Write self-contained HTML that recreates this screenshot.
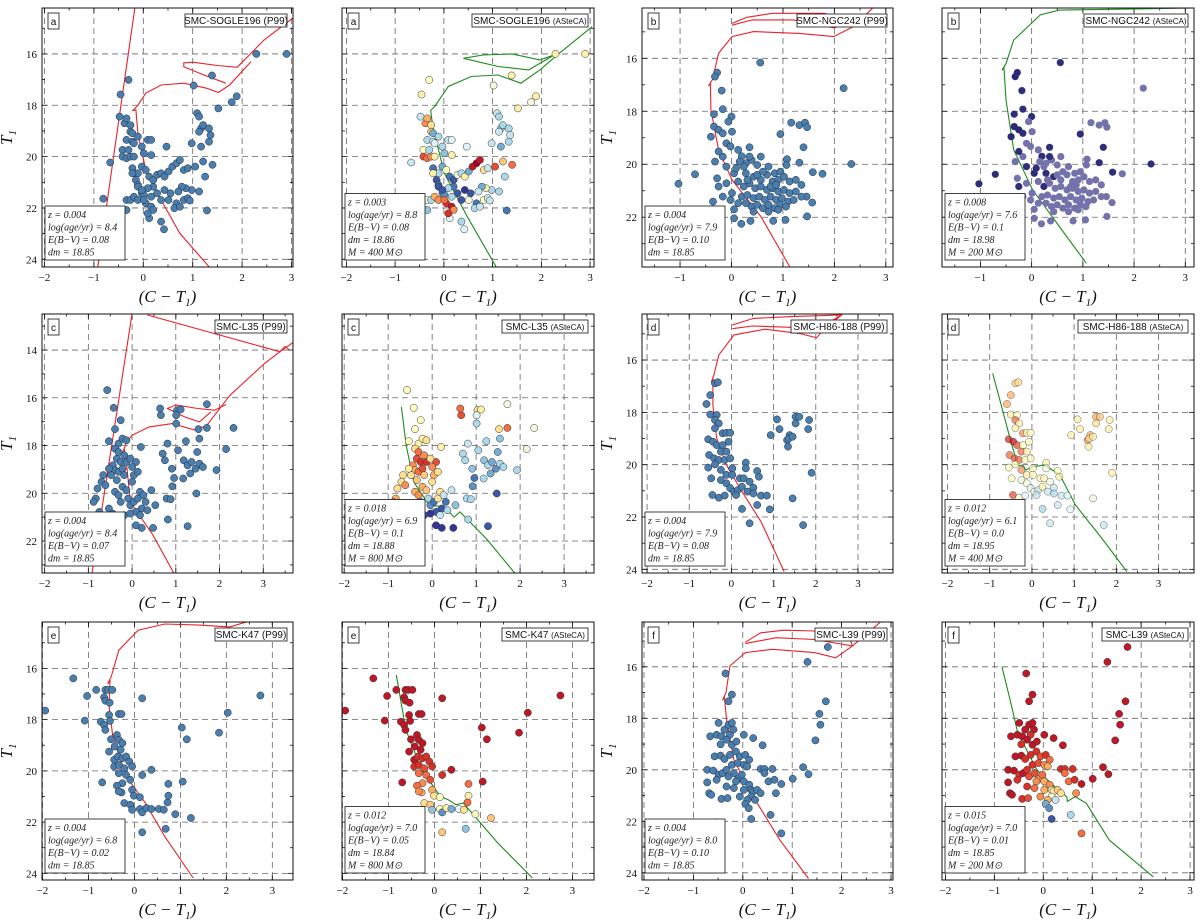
<!DOCTYPE html>
<html><head><meta charset="utf-8">
<style>
html,body{margin:0;padding:0;background:#fff;}
svg{display:block;}
.tick{font-family:"Liberation Serif",serif;font-size:11px;fill:#111;}
.axl{font-family:"Liberation Serif",serif;font-size:17px;font-style:italic;fill:#111;}
.ttl{font-family:"Liberation Sans",sans-serif;font-size:10px;fill:#111;}
.info{font-family:"Liberation Serif",serif;font-size:10px;font-style:italic;fill:#222;}
</style></head>
<body>
<svg id="fig" width="1200" height="921" viewBox="0 0 1200 921" xmlns="http://www.w3.org/2000/svg"></svg>
<script>
// ---------- DATA ----------
const ptsA=[[-0.81,21.64],[-0.67,20.23],[-0.46,17.58],[-0.30,17.01],[-0.48,18.44],[-0.38,18.70],[-0.34,18.51],[-0.26,18.77],[-0.26,19.03],[-0.22,19.09],[-0.34,19.35],[-0.22,19.42],[-0.42,19.74],[-0.30,19.74],[-0.42,20.00],[-0.34,20.06],[-0.26,20.00],[-0.19,20.00],[-0.22,20.45],[-0.19,20.65],[-0.15,20.91],[-0.11,21.10],[-0.34,21.69],[-0.26,21.69],[-0.19,21.56],[-0.34,22.08],[-0.11,21.17],[-0.03,21.43],[0.05,21.82],[0.16,21.95],[0.20,22.08],[0.12,22.40],[0.36,22.53],[0.42,22.83],[0.36,21.69],[0.51,21.69],[0.67,21.82],[0.63,22.01],[0.74,21.95],[0.82,21.69],[0.90,21.62],[0.98,21.30],[0.86,21.23],[0.78,21.17],[0.71,21.36],[0.55,21.43],[0.43,21.30],[0.28,21.43],[0.20,21.17],[0.09,21.23],[0.01,21.49],[-0.03,21.30],[-0.11,20.65],[-0.03,20.39],[0.05,20.52],[0.12,20.78],[0.20,20.91],[0.28,20.71],[0.36,20.65],[0.43,20.78],[0.51,20.58],[0.59,20.39],[0.67,20.26],[0.74,20.13],[0.82,20.52],[0.90,20.45],[1.05,20.39],[1.21,20.19],[1.17,19.61],[1.25,20.78],[1.40,20.32],[1.13,21.36],[1.29,22.10],[0.94,21.71],[0.98,19.48],[1.09,18.31],[1.13,18.44],[1.17,18.90],[1.21,18.77],[1.13,19.03],[1.33,18.90],[1.33,19.42],[1.36,19.16],[1.39,16.84],[1.52,18.12],[1.79,17.88],[1.89,17.65],[2.29,16.00],[2.90,16.00],[1.02,17.23],[0.09,19.35],[0.16,19.35],[0.01,19.87],[0.16,19.94],[-0.03,19.61],[0.47,19.61],[-0.19,19.48],[-0.11,19.22],[-0.22,20.65],[-0.11,21.69],[0.01,21.69],[0.09,22.21],[0.16,21.56]];
const probA=[0.4,0.35,0.55,0.5,0.35,0.75,0.7,0.6,0.65,0.2,0.3,0.35,0.5,0.3,0.85,0.8,0.75,0.55,0.1,0.35,0.05,0.1,0.45,0.3,0.7,0.25,0.05,0.15,0.9,0.95,0.75,0.4,0.3,0.4,0.05,0.45,0.1,0.3,0.35,0.5,0.35,0.3,0.55,0.2,0.35,0.05,0.0,0.05,0.1,0.3,0.15,0.05,0.3,0.2,0.5,0.1,0.05,0.45,0.3,0.55,0.2,0.95,1.0,0.95,0.6,0.35,0.85,0.65,0.2,0.3,0.8,0.3,0.1,0.35,0.35,0.35,0.3,0.25,0.3,0.35,0.3,0.3,0.35,0.55,0.55,0.45,0.55,0.55,0.55,0.45,0.35,0.4,0.25,0.55,0.3,0.4,0.4,0.3,0.55,0.75,0.8,0.9,0.3];
const isoA1=[[1.33,24.29],[0.74,22.99],[0.36,21.69],[0.05,20.52],[-0.11,19.09],[-0.15,18.18],[-0.21,18.2],[-0.11,18.0],[0.05,17.53],[0.36,17.21],[0.82,17.14],[1.29,17.34],[1.52,17.5],[1.75,17.2],[2.18,16.3]];
const isoA2=[[1.67,17.14],[1.2,16.8],[0.82,16.5],[0.82,16.35],[1.0,16.32],[1.5,16.45],[1.9,16.52],[2.45,15.45],[3.03,14.6]];
const isoA3=[[-0.17,14.2],[-0.92,24.3]];
const isoA4=[[1.07,24.29],[0.48,22.34],[0.01,20.65],[-0.23,18.83],[-0.27,18.2],[-0.19,18.05],[0.09,17.27],[0.56,16.88],[1.11,16.82],[1.58,17.14],[1.97,16.62],[2.37,15.97],[3.04,14.94]];
const isoA5=[[2.37,15.97],[1.97,16.23],[1.4,16.0],[0.80,16.04],[0.40,16.17],[1.11,16.49],[1.74,16.62],[2.3,16.0]];

const ptsB=[[0.56,16.16],[-0.28,16.54],[-0.32,16.69],[-0.19,17.22],[2.18,17.13],[-0.17,17.92],[-0.34,18.11],[0,18.2],[-0.06,18.39],[-0.34,18.58],[-0.25,18.7],[-0.17,18.83],[-0.40,18.96],[0.01,18.77],[0.95,18.86],[1.16,18.43],[1.32,18.52],[1.43,18.43],[1.47,18.6],[1.40,19.36],[-0.10,19.21],[-0.02,19.33],[0.13,19.46],[0.35,19.36],[-0.32,19.9],[2.33,19.99],[-0.71,20.38],[-1.03,20.74],[-0.36,21.41],[0.05,21.7],[0.05,22.04],[0.19,22.25],[0.37,22.14],[0.81,22.14],[1.05,22.1],[1.47,21.97],[1.57,21.45],[1.46,21.22],[1.58,20.3],[1.77,20.36],[1.32,19.94],[1.08,19.81],[1.07,20.03],[-0.25,20.84],[-0.28,20.53],[-0.17,21.22],[0.01,21.09],[-0.1,20.09],[0.05,20.34],
[0.2,19.7],[0.28,19.96],[0.39,19.84],[0.5,20.03],[0.57,19.71],[0.72,20.09],[0.84,20.34],[0.95,20.28],[0.28,20.34],[0.43,20.47],[0.57,20.59],[0.69,20.4],[0.8,20.65],[0.91,20.59],[1.02,20.47],[1.13,20.65],[1.25,20.59],[1.36,20.78],[0.13,20.65],[0.24,20.84],[0.35,20.72],[0.46,20.91],[0.57,20.84],[0.69,20.97],[0.8,20.91],[0.91,21.03],[1.02,20.97],[1.13,21.09],[1.25,21.03],[1.36,21.22],[0.2,21.22],[0.31,21.16],[0.43,21.28],[0.54,21.22],[0.65,21.35],[0.76,21.22],[0.87,21.35],[0.98,21.28],[1.1,21.41],[1.21,21.35],[0.28,21.47],[0.39,21.6],[0.5,21.53],[0.61,21.66],[0.72,21.53],[0.84,21.66],[0.95,21.53],[1.06,21.6],[0.43,21.79],[0.72,21.79],[0.91,21.72],[0.13,21.47],[-0.02,21.35],[0.31,20.59],[0.09,20.15],[0.24,20.09],[0.16,19.9],[0.35,19.71],[0.5,20.4],[0.61,20.28],[0.76,20.84],[0.87,20.78],[-0.1,20.72],[-0.17,19.71],[-0.25,19.52]];
const probB=[0.9,0.95,0.95,0.9,0.3,0.9,0.9,0.9,0.3,0.95,0.95,0.9,0.95,0.3,0.9,0.3,0.3,0.3,0.3,0.9,0.3,0.3,0.3,0.9,0.3,0.9,0.9,0.9,0.3,0.3,0.3,0.3,0.3,0.3,0.3,0.3,0.3,0.3,0.9,0.3,0.9,0.3,0.3,0.9,0.3,0.3,0.3,0.9,0.9,
0.9,0.3,0.3,0.3,0.3,0.3,0.3,0.3,0.9,0.9,0.3,0.3,0.3,0.3,0.3,0.3,0.3,0.3,0.3,0.9,0.3,0.3,0.3,0.3,0.3,0.3,0.3,0.3,0.3,0.3,0.3,0.3,0.3,0.3,0.3,0.3,0.3,0.3,0.3,0.3,0.3,0.3,0.3,0.3,0.3,0.3,0.3,0.3,0.3,0.3,0.3,0.3,0.3,0.3,0.9,0.3,0.3,0.9,0.3,0.3,0.3,0.3,0.3,0.3,0.9];
const isoB1=[[1.13,23.86],[0.57,21.97],[0.01,20.59],[-0.25,19.46],[-0.40,17.95],[-0.41,16.95],[-0.45,17.05],[-0.37,16.8],[-0.25,15.81],[0.01,15.18],[0.43,14.99],[1.32,15.06],[1.99,15.18],[2.37,14.8],[2.74,14.11]];
const isoB2=[[0.01,14.68],[0.3,14.45],[0.8,14.3],[1.8,14.3],[2.3,14.6],[2.0,14.85],[1.2,14.55],[0.4,14.55],[0.01,14.75]];
const isoB3=[[1.07,23.74],[0.54,22.35],[0.02,20.97],[-0.35,19.46],[-0.5,17.57],[-0.54,16.38],[-0.58,16.45],[-0.5,16.2],[-0.35,15.31],[0.17,14.36],[0.54,14.18],[3.16,14.1]];

const ptsC=[[-0.57,15.68],[-0.42,16.42],[-0.26,16.94],[-0.39,17.31],[-0.53,17.82],[-0.31,17.92],[-0.22,17.71],[-0.13,17.78],[-0.39,18.13],[-0.31,18.27],[-0.35,18.55],[-0.26,18.69],[-0.44,18.83],[-0.39,19.03],[-0.31,19.1],[-0.22,18.97],[-0.18,19.24],[-0.48,19.24],[-0.66,19.24],[-0.7,19.52],[-0.79,19.8],[-0.83,20.22],[-0.88,20.36],[-0.75,20.78],[-0.53,20.64],[-0.44,20.85],[-0.39,19.94],[-0.31,20.08],[-0.22,19.73],[-0.13,19.87],[-0.09,20.22],[-0.04,20.5],[0.04,20.36],[0.13,20.22],[0.18,19.94],[0.26,20.08],[0.31,20.36],[0.22,20.64],[0.09,20.78],[0.09,21.34],[0.22,21.45],[0.48,21.45],[0.53,20.5],[0.44,19.87],[0,19.52],[0.04,19.24],[0.13,19.1],[0.09,18.69],[0,18.9],[0.2,18.06],[0.7,18.34],[0.75,18.62],[0.66,16.73],[0.64,16.45],[1.03,16.52],[1.11,16.49],[1.01,16.73],[1.01,17.08],[1.23,17.82],[1.05,18.2],[0.81,17.92],[0.91,18.97],[0.96,19.36],[0.92,19.71],[1.17,19.38],[1.18,18.62],[1.27,18.83],[1.36,18.69],[1.45,18.97],[1.54,18.76],[1.62,18.9],[1.33,19.17],[1.49,18.27],[1.54,17.71],[1.52,17.31],[1.71,17.26],[1.71,16.27],[1.93,19.03],[2.15,18.15],[2.32,17.26],[1.47,20.01],[0.79,20.22],[0.88,20.25],[0.82,21.1],[1.27,21.38],[-0.13,18.69],[-0.18,18.41],[-0.04,18.55],[-0.53,18.97],[-0.61,19.66],[-0.35,19.45],[-0.26,20.36],[-0.18,20.92],[-0.04,20.85],[0.18,20.92],[0.35,20.71]];
const probC=[0.5,0.5,0.5,0.5,0.5,0.55,0.55,0.6,0.6,0.8,0.85,0.9,0.75,0.7,0.8,0.85,0.65,0.6,0.6,0.6,0.6,0.7,0.7,0.55,0.9,0.1,0.7,0.75,0.7,0.65,0.3,0.15,0.1,0.6,0.6,0.35,0.1,0.05,0.05,0.0,0.0,0.0,0.25,0.35,0.6,0.7,0.6,0.85,0.75,0.55,0.3,0.3,0.85,0.8,0.6,0.55,0.4,0.3,0.3,0.3,0.35,0.25,0.1,0.15,0.3,0.25,0.3,0.2,0.15,0.3,0.3,0.2,0.2,0.25,0.6,0.8,0.45,0.3,0.45,0.45,0.05,0.3,0.3,0.3,0.05,0.9,0.75,0.6,0.55,0.75,0.65,0.15,0.05,0.0,0.35,0.3];
const isoC1=[[0.96,23.37],[0.48,21.76],[-0.04,20.36],[-0.13,18.69],[-0.18,18.13],[-0.22,18.3],[-0.12,17.85],[0,17.57],[0.39,17.22],[0.92,17.08],[1.45,17.36],[1.71,17.15],[2.24,15.89],[3.03,14.56],[3.38,14.07],[3.68,13.69]];
const isoC2=[[0,12.46],[-0.92,23.37]];
const isoC3=[[0.35,12.53],[3.38,14.07],[3.5,13.85],[3.6,14.0]];
const isoC4=[[2.15,16.28],[1.89,16.52],[1.5,16.45],[1.0,16.3],[0.81,16.45],[1.2,16.8],[1.54,17.01],[1.8,16.6]];
const isoC5=[[1.89,23.37],[1.23,21.9],[0.63,20.78],[0.5,21.0],[0.28,20.57],[-0.07,20.5],[-0.42,19.52],[-0.59,17.99],[-0.70,16.38]];

const ptsD=[[-0.39,16.89],[-0.32,16.85],[-0.5,17.34],[-0.59,17.68],[-0.5,18.08],[-0.35,18.1],[-0.39,18.29],[-0.3,18.42],[-0.21,18.8],[-0.12,18.78],[-0.03,18.78],[-0.39,18.61],[-0.55,19.03],[-0.44,19.12],[-0.35,19.25],[-0.21,19.25],[-0.07,19.12],[-0.25,19.5],[-0.12,19.5],[-0.53,19.63],[-0.41,19.76],[-0.3,19.82],[-0.16,19.82],[-0.03,19.76],[-0.55,20.11],[-0.39,19.99],[-0.25,20.2],[-0.12,20.39],[0.02,20.14],[0.02,20.39],[-0.48,20.52],[-0.25,20.59],[-0.12,20.71],[-0.03,20.9],[0.06,21.03],[0.15,20.97],[0.2,20.52],[0.25,20.84],[0.34,19.92],[0.34,20.14],[0.29,20.52],[0.43,20.65],[0.38,21.03],[0.52,20.88],[0.52,21.1],[0.61,20.24],[0.65,20.46],[0.7,21.18],[0.84,21.18],[0.61,21.54],[0.91,21.71],[0.25,21.69],[0.43,22.24],[-0.45,21.16],[-0.3,21.26],[-0.16,21.18],[0.11,21.16],[0.93,18.87],[1.08,18.27],[1.14,18.64],[1.38,18.87],[1.32,19.06],[1.36,19.0],[1.45,18.93],[1.34,19.31],[1.52,18.17],[1.61,18.17],[1.52,18.42],[1.84,18.29],[1.82,18.64],[1.9,20.31],[1.45,21.29],[1.7,22.31]];
const probD=[0.65,0.6,0.7,0.7,0.55,0.5,0.8,0.55,0.75,0.5,0.5,0.55,0.9,0.95,0.85,0.5,0.5,0.8,0.55,0.8,0.85,0.8,0.5,0.5,0.5,0.5,0.75,0.55,0.5,0.5,0.5,0.45,0.45,0.4,0.45,0.35,0.55,0.55,0.55,0.45,0.5,0.45,0.35,0.35,0.3,0.5,0.55,0.35,0.4,0.35,0.4,0.3,0.35,0.85,0.5,0.4,0.35,0.55,0.55,0.55,0.7,0.75,0.6,0.55,0.55,0.7,0.65,0.6,0.55,0.55,0.55,0.45,0.35];
const isoD1=[[1.25,24.09],[0.7,22.18],[0.25,21.03],[-0.12,20.01],[-0.35,18.99],[-0.44,17.72],[-0.44,16.75],[-0.48,16.85],[-0.42,16.6],[-0.3,15.81],[0.06,15.04],[0.79,14.82],[1.61,14.98],[2.02,15.15],[2.34,14.54],[2.61,14.28]];
const isoD2=[[0.02,14.66],[0.52,14.41],[1.43,14.34],[2.61,14.28],[2.3,14.7],[1.4,14.75],[0.5,14.7],[0.02,14.8]];
const isoD3=[[2.25,24.09],[1.66,22.82],[1.03,21.54],[0.66,20.39],[0.3,20.01],[0.03,20.08],[-0.15,20.2],[-0.2,20.05],[-0.34,20.01],[-0.52,18.99],[-0.75,17.59],[-0.93,16.51]];

const ptsE=[[-1.33,16.39],[-1.94,17.65],[-1.03,17.08],[-0.83,16.84],[-1.08,18.04],[-0.63,16.84],[-0.57,16.84],[-0.48,16.84],[-0.66,17.13],[-0.63,17.26],[-0.54,17.34],[-0.73,18.08],[-0.66,18.21],[-0.63,18.4],[-0.55,17.82],[-0.53,18.05],[-0.34,17.78],[-0.28,17.78],[-0.51,18.77],[-0.38,18.6],[-0.34,18.79],[-0.26,18.92],[-0.43,19.05],[-0.3,19.18],[-0.55,19.25],[-0.44,19.57],[-0.36,19.44],[-0.26,19.51],[-0.18,19.44],[-0.11,19.64],[-0.44,19.83],[-0.34,19.77],[-0.22,19.9],[-0.05,19.83],[-0.34,20.09],[-0.18,20.16],[-0.09,20.35],[-0.26,20.48],[-0.38,20.58],[-0.28,20.84],[-0.34,20.8],[-0.7,20.45],[-0.05,20.74],[-0.01,20.97],[0.12,21.03],[-0.22,21.26],[-0.09,21.32],[-0.05,21.52],[0.12,21.49],[0.17,21.62],[0.26,21.45],[0.37,21.49],[0.53,21.49],[0.64,21.52],[0.72,21.23],[0.74,20.97],[0.74,20.51],[0.89,21.69],[1.23,21.84],[0.68,22.26],[0.17,22.4],[0.17,20.16],[0.37,19.96],[1.03,18.31],[1.14,18.77],[1.05,20.42],[1.84,18.51],[2.03,17.73],[2.74,17.06],[0.17,17.17]];
const probE=[0.95,0.95,0.95,0.95,0.95,0.95,0.95,0.95,0.95,0.95,0.95,0.95,0.95,0.95,0.95,0.95,0.95,0.95,0.95,0.95,0.95,0.95,0.95,0.95,0.95,0.95,0.9,0.9,0.9,0.9,0.9,0.9,0.85,0.9,0.8,0.8,0.85,0.75,0.8,0.7,0.75,0.95,0.7,0.6,0.5,0.6,0.65,0.25,0.5,0.15,0.55,0.2,0.4,0.6,0.8,0.55,0.8,0.5,0.65,0.25,0.65,0.9,0.95,0.95,0.95,0.95,0.95,0.95,0.95,0.95];
const isoE1=[[1.28,24.18],[0.66,22.56],[0.24,21.26],[-0.18,20.22],[-0.47,18.66],[-0.55,17.49],[-0.53,16.5],[-0.58,16.6],[-0.5,16.3],[-0.34,15.29],[0.08,14.51],[0.66,14.27],[1.41,14.31],[2.08,14.38],[2.45,14.18],[2.6,14.0]];
const isoE2=[[2.13,24.18],[1.38,22.82],[0.88,21.78],[0.63,21.26],[0.47,21.32],[0.3,21.13],[0.13,21.0],[-0.28,19.96],[-0.62,18.4],[-0.83,16.26]];

const ptsF=[[-0.35,16.26],[-0.22,17.08],[-0.29,17.34],[1.72,15.23],[1.31,15.81],[1.68,17.34],[1.55,17.83],[1.57,18.25],[1.47,18.86],[1.22,19.9],[1.33,20.17],[1.01,20.35],[0.78,20.55],[0.56,21.75],[0.78,22.47],[-0.53,22.04],[-0.76,22.27],[-0.66,18.7],[-0.49,18.18],[-0.53,18.64],[-0.43,18.7],[-0.37,18.44],[-0.29,18.25],[-0.26,18.64],[-0.33,18.83],[-0.22,18.18],[-0.19,18.44],[0.02,18.64],[0.21,18.77],[0.4,19.05],[-0.45,19.01],[-0.57,19.48],[-0.45,19.45],[-0.37,19.58],[-0.26,19.42],[-0.14,19.29],[-0.06,19.48],[0.05,19.42],[0.13,19.61],[-0.22,19.81],[-0.1,19.74],[0.02,19.81],[0.09,19.87],[-0.72,20.0],[-0.6,20.03],[-0.49,20.19],[-0.41,20.13],[-0.33,20.0],[-0.29,20.26],[-0.18,20.13],[-0.1,20.36],[-0.02,20.19],[0.02,20.45],[0.13,20.58],[0.17,20.78],[0.21,20.84],[0.29,20.78],[0.36,20.91],[0.17,21.04],[0.25,21.17],[0.09,21.17],[0.05,21.32],[0.12,21.49],[0.17,21.91],[0.02,20.78],[-0.72,20.49],[-0.68,20.91],[-0.64,20.97],[-0.33,20.65],[-0.43,21.13],[-0.31,21.1],[0.36,19.97],[0.44,19.97],[0.6,19.97],[0.52,20.45],[0.64,20.39],[0.67,20.91],[0.44,20.13],[-0.14,20.45],[-0.53,20.39],[-0.06,21.04],[-0.18,20.71],[-0.22,19.03],[-0.13,18.9]];
const probF=[0.95,0.95,0.95,0.95,0.95,0.95,0.95,0.95,0.95,0.95,0.95,0.95,0.95,0.3,0.8,0.95,0.45,0.95,0.95,0.95,0.95,0.95,0.95,0.9,0.95,0.95,0.95,0.95,0.95,0.95,0.9,0.95,0.95,0.9,0.9,0.9,0.85,0.9,0.8,0.9,0.85,0.75,0.7,0.95,0.95,0.9,0.95,0.9,0.85,0.85,0.75,0.8,0.7,0.75,0.6,0.55,0.65,0.6,0.45,0.35,0.7,0.2,0.15,0.05,0.7,0.95,0.95,0.95,0.9,0.9,0.85,0.9,0.9,0.9,0.8,0.9,0.75,0.8,0.75,0.9,0.75,0.8,0.95,0.95];
const isoF1=[[1.33,24.22],[0.75,22.73],[0.21,21.04],[-0.18,19.61],[-0.33,18.05],[-0.37,17.2],[-0.41,17.3],[-0.34,17.0],[-0.26,15.97],[0.05,15.45],[0.6,15.32],[1.45,15.45],[1.88,15.65],[2.22,15.19],[2.81,14.22]];
const isoF2=[[0.05,15.05],[0.36,14.68],[0.83,14.58],[1.45,14.61],[2.15,14.81],[2.22,15.19],[1.45,14.94],[0.67,14.87],[0.05,15.1]];
const isoF3=[[2.25,24.16],[1.35,22.73],[0.88,21.3],[0.65,21.04],[0.49,21.23],[0.48,21.05],[0.34,20.84],[-0.13,20.0],[-0.52,18.57],[-0.68,17.27],[-0.84,16.04],[-0.84,16.0]];

// ---------- LAYOUT ----------
const panels=[
 {name:'sogle196-p99',box:[42,8,251,259],xd:[-2.05,3.03],yd:[14.21,24.30],pts:ptsA,prob:null,lines:[isoA1,isoA2,isoA3],lc:'#e8222a',letter:'a',title:'SMC-SOGLE196',tag:'(P99)',info:['z = 0.004','log(age/yr) = 8.4','E(B−V) = 0.08','dm = 18.85'],ylab:true},
 {name:'sogle196-asteca',box:[342,8,252,259],xd:[-2.09,3.08],yd:[14.21,24.30],pts:ptsA,prob:probA,cm:'rdylbu',lines:[isoA4,isoA5],lc:'#1f8a1f',letter:'a',title:'SMC-SOGLE196',tag:'(ASteCA)',info:['z = 0.003','log(age/yr) = 8.8','E(B−V) = 0.08','dm = 18.86','M = 400 M⊙'],ylab:false},
 {name:'ngc242-p99',box:[642,8,251,259],xd:[-1.74,3.14],yd:[14.10,23.88],pts:ptsB,prob:null,lines:[isoB1,isoB2],lc:'#e8222a',letter:'b',title:'SMC-NGC242',tag:'(P99)',info:['z = 0.004','log(age/yr) = 7.9','E(B−V) = 0.10','dm = 18.85'],ylab:true},
 {name:'ngc242-asteca',box:[942,8,252,259],xd:[-1.75,3.17],yd:[14.10,23.88],pts:ptsB,prob:probB,cm:'purples',lines:[isoB3],lc:'#1f8a1f',letter:'b',title:'SMC-NGC242',tag:'(ASteCA)',info:['z = 0.008','log(age/yr) = 7.6','E(B−V) = 0.1','dm = 18.98','M = 200 M⊙'],ylab:false},
 {name:'l35-p99',box:[42,314,251,259],xd:[-2.06,3.68],yd:[12.49,23.34],pts:ptsC,prob:null,lines:[isoC1,isoC2,isoC3,isoC4],lc:'#e8222a',letter:'c',title:'SMC-L35',tag:'(P99)',info:['z = 0.004','log(age/yr) = 8.4','E(B−V) = 0.07','dm = 18.85'],ylab:true},
 {name:'l35-asteca',box:[342,314,252,259],xd:[-2.05,3.68],yd:[12.49,23.34],pts:ptsC,prob:probC,cm:'rdylbu',lines:[isoC5],lc:'#1f8a1f',letter:'c',title:'SMC-L35',tag:'(ASteCA)',info:['z = 0.018','log(age/yr) = 6.9','E(B−V) = 0.1','dm = 18.88','M = 800 M⊙'],ylab:false},
 {name:'h86-188-p99',box:[642,314,251,259],xd:[-2.12,3.83],yd:[14.24,24.14],pts:ptsD,prob:null,lines:[isoD1,isoD2],lc:'#e8222a',letter:'d',title:'SMC-H86-188',tag:'(P99)',info:['z = 0.004','log(age/yr) = 7.9','E(B−V) = 0.08','dm = 18.85'],ylab:true},
 {name:'h86-188-asteca',box:[942,314,252,259],xd:[-2.13,3.84],yd:[14.24,24.14],pts:ptsD,prob:probD,cm:'rdylbu',faded:true,lines:[isoD3],lc:'#1f8a1f',letter:'d',title:'SMC-H86-188',tag:'(ASteCA)',info:['z = 0.012','log(age/yr) = 6.1','E(B−V) = 0.0','dm = 18.95','M = 400 M⊙'],ylab:false},
 {name:'k47-p99',box:[42,622,251,258],xd:[-2.01,3.45],yd:[14.19,24.26],pts:ptsE,prob:null,lines:[isoE1],lc:'#e8222a',letter:'e',title:'SMC-K47',tag:'(P99)',info:['z = 0.004','log(age/yr) = 6.8','E(B−V) = 0.02','dm = 18.85'],ylab:true},
 {name:'k47-asteca',box:[342,622,252,258],xd:[-2.01,3.47],yd:[14.19,24.26],pts:ptsE,prob:probE,cm:'rdylbu',lines:[isoE2],lc:'#1f8a1f',letter:'e',title:'SMC-K47',tag:'(ASteCA)',info:['z = 0.012','log(age/yr) = 7.0','E(B−V) = 0.05','dm = 18.84','M = 800 M⊙'],ylab:false},
 {name:'l39-p99',box:[642,622,251,258],xd:[-2.04,3.04],yd:[14.26,24.28],pts:ptsF,prob:null,lines:[isoF1,isoF2],lc:'#e8222a',letter:'f',title:'SMC-L39',tag:'(P99)',info:['z = 0.004','log(age/yr) = 8.0','E(B−V) = 0.10','dm = 18.85'],ylab:true},
 {name:'l39-asteca',box:[942,622,252,258],xd:[-2.07,3.08],yd:[14.26,24.28],pts:ptsF,prob:probF,cm:'rdylbu',lines:[isoF3],lc:'#1f8a1f',letter:'f',title:'SMC-L39',tag:'(ASteCA)',info:['z = 0.015','log(age/yr) = 7.0','E(B−V) = 0.01','dm = 18.85','M = 200 M⊙'],ylab:false}
];

const NS='http://www.w3.org/2000/svg';
const fig=document.getElementById('fig');
function mk(tag,attrs,parent){const e=document.createElementNS(NS,tag);for(const k in attrs)e.setAttribute(k,attrs[k]);(parent||fig).appendChild(e);return e;}
function lerp(a,b,t){return a+(b-a)*t;}
const RD=[[49,54,149],[69,117,180],[116,173,209],[171,217,233],[224,243,248],[255,255,191],[254,224,144],[253,174,97],[244,109,67],[215,48,39],[165,0,38]];
function rdylbu(p){p=Math.max(0,Math.min(1,p));const f=p*10,i=Math.min(9,Math.floor(f)),t=f-i;const a=RD[i],b=RD[i+1];return 'rgb('+[0,1,2].map(k=>Math.round(lerp(a[k],b[k],t))).join(',')+')';}
function purples(p){const a=[150,148,196],b=[35,35,112];return 'rgb('+[0,1,2].map(k=>Math.round(lerp(a[k],b[k],p))).join(',')+')';}

panels.forEach((P,pi)=>{
  const [L,T,W,H]=P.box;
  const g=mk('g',{});
  
  
  const sx=v=>L+(v-P.xd[0])/(P.xd[1]-P.xd[0])*W;
  const sy=v=>T+(v-P.yd[0])/(P.yd[1]-P.yd[0])*H;
  const cid='clip'+pi;
  const cp=mk('clipPath',{id:cid},g);mk('rect',{x:L,y:T,width:W,height:H},cp);
  // grid
  const grid=mk('g',{stroke:'#666','stroke-width':0.8,'stroke-dasharray':'6,4'},g);
  
  
  const xt=[];for(let v=Math.ceil(P.xd[0]);v<=Math.floor(P.xd[1]);v++)xt.push(v);
  const yt=[];for(let v=Math.ceil(P.yd[0]/2)*2;v<=P.yd[1];v+=2)yt.push(v);
  xt.forEach(v=>mk('line',{x1:sx(v),x2:sx(v),y1:T,y2:T+H},grid));
  yt.forEach(v=>mk('line',{x1:L,x2:L+W,y1:sy(v),y2:sy(v)},grid));
  // ticks
  const tk=mk('g',{stroke:'#111','stroke-width':0.8},g);
  xt.forEach(v=>{mk('line',{x1:sx(v),x2:sx(v),y1:T+H,y2:T+H-5},tk);mk('line',{x1:sx(v),x2:sx(v),y1:T,y2:T+5},tk);});
  for(let v=Math.ceil(P.xd[0]*2)/2;v<=P.xd[1];v+=0.5){mk('line',{x1:sx(v),x2:sx(v),y1:T+H,y2:T+H-2.5},tk);mk('line',{x1:sx(v),x2:sx(v),y1:T,y2:T+2.5},tk);}
  for(let v=Math.ceil(P.yd[0]);v<=P.yd[1];v++){const l=(v%2===0)?5:3;mk('line',{x1:L,x2:L+l,y1:sy(v),y2:sy(v)},tk);mk('line',{x1:L+W,x2:L+W-l,y1:sy(v),y2:sy(v)},tk);}
  // isochrones
  const lg=mk('g',{'clip-path':'url(#'+cid+')',fill:'none',stroke:P.lc,'stroke-width':1.1},g);
  P.lines.forEach((ln,li)=>{
    const p=mk('polyline',{points:ln.map(q=>sx(q[0]).toFixed(1)+','+sy(q[1]).toFixed(1)).join(' ')},lg);
    
    
  });
  // points
  const pg=mk('g',{'clip-path':'url(#'+cid+')'},g);
  
  
  P.pts.forEach((q,i)=>{
    let fill='#4b7dad',stroke='#1c2c3c',op=1;
    if(P.prob){const pr=P.prob[i];fill=P.cm==='purples'?purples(pr):rdylbu(pr);stroke=P.cm==='purples'?'none':'#333';if(P.faded)op=0.75;}
    const c=mk('circle',{cx:sx(q[0]).toFixed(1),cy:sy(q[1]).toFixed(1),r:3.6,fill:fill,stroke:stroke,'stroke-width':0.5,opacity:op},pg);
    
    
  });
  // frame
  const fr=mk('rect',{x:L,y:T,width:W,height:H,fill:'none',stroke:'#111','stroke-width':1},g);
  
  
  // tick labels
  xt.forEach(v=>{const t=mk('text',{x:sx(v),y:T+H+14,'text-anchor':'middle',class:'tick'},g);t.textContent=(v<0?'−':'')+Math.abs(v);});
  if(P.ylab){
    yt.forEach(v=>{const t=mk('text',{x:L-5,y:sy(v)+4,'text-anchor':'end',class:'tick'},g);t.textContent=v;});
    const yl=mk('text',{x:L-30,y:T+H/2,'text-anchor':'middle',class:'axl',transform:'rotate(-90 '+(L-30)+' '+(T+H/2)+')'},g);
    yl.innerHTML='T<tspan font-size="11" dy="4">1</tspan>';
    
    
  }
  const xl=mk('text',{x:L+W/2,y:T+H+35,'text-anchor':'middle',class:'axl'},g);
  xl.innerHTML='(C − T<tspan font-size="11" dy="4">1</tspan><tspan dy="-4">)</tspan>';
  
  
  // letter box
  const lb=mk('g',{},g);
  
  
  mk('rect',{x:L+6,y:T+5,width:11,height:16,fill:'#fff',stroke:'#111','stroke-width':0.8},lb);
  const lt=mk('text',{x:L+11.5,y:T+17,'text-anchor':'middle',class:'ttl'},lb);lt.textContent=P.letter;
  // title box
  const tb=mk('g',{},g);
  
  
  const tw=P.tag==='(P99)'? P.title.length*6+30 : P.title.length*6+44;
  mk('rect',{x:L+W-6-tw,y:T+6,width:tw,height:13,fill:'#fff',stroke:'#111','stroke-width':0.8},tb);
  const tt=mk('text',{x:L+W-6-tw/2,y:T+16,'text-anchor':'middle',class:'ttl'},tb);
  tt.innerHTML=P.title+' <tspan font-size="'+(P.tag==='(P99)'?10:8)+'">'+P.tag+'</tspan>';
  // info box
  const ib=mk('g',{},g);
  
  
  const n=P.info.length,bh=n*12.5+4,bw=n===5?80:80;
  mk('rect',{x:L+3,y:T+H-7-bh,width:bw,height:bh,fill:'#fff',stroke:'#111','stroke-width':0.8},ib);
  P.info.forEach((s,k)=>{const t=mk('text',{x:L+6,y:T+H-7-bh+12+k*12.5,class:'info'},ib);t.textContent=s;});
});
</script>
</body></html>
